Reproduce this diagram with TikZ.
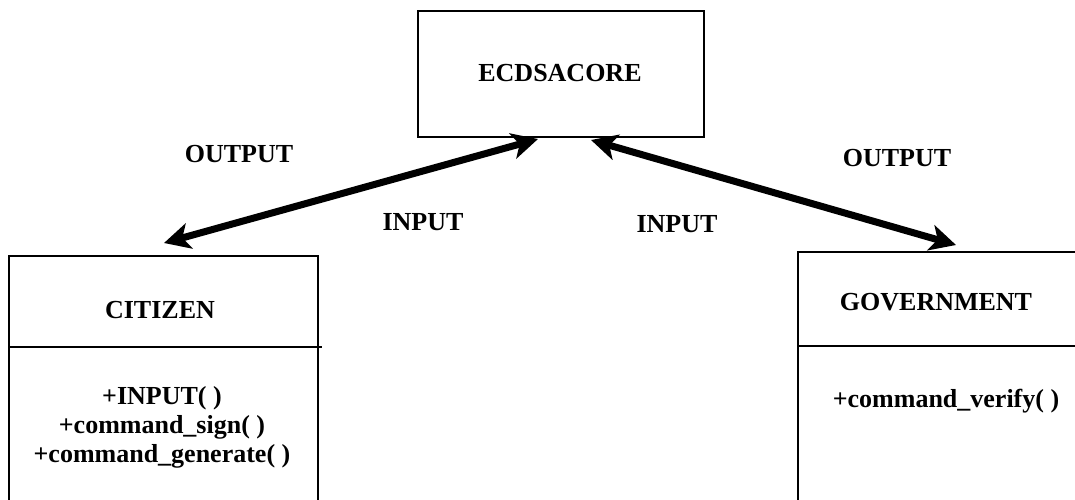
\documentclass[tikz,border=0pt]{standalone}
\usepackage{fontspec}
\setmainfont{Liberation Serif}
\usetikzlibrary{arrows.meta}
\begin{document}
\begin{tikzpicture}[x=1pt,y=-1pt,
  box/.style={draw=black, line width=2pt, rectangle, inner sep=0pt, anchor=north west},
  lbl/.style={font=\fontsize{26}{29}\selectfont\bfseries, inner sep=0pt, align=center},
  arr/.style={line width=7pt, {Stealth[length=26pt,width=26pt,inset=7pt]}-{Stealth[length=26pt,width=26pt,inset=7pt]}}]
\clip (0,0) rectangle (1075,499);
\fill[white] (0,0) rectangle (1075,499);
% core
\node[box, minimum width=286pt, minimum height=126pt] (core) at (417,10) {};
\node[lbl] (coreT) at (560,73) {ECDSACORE};
% citizen
\node[box, minimum width=309pt, minimum height=280pt] (cit) at (8,255) {};
\coordinate (citD1) at (8,347);
\coordinate (citD2) at (322,347);
\draw[line width=2pt] (citD1) -- (citD2);
\node[lbl] (citT) at (160,310) {CITIZEN};
\node[lbl] (citM) at (162,427) {+INPUT( )\\+command\_sign( )\\+command\_generate( )};
% government
\node[box, minimum width=300pt, minimum height=280pt] (gov) at (797,251) {};
\coordinate (govD1) at (797,346);
\coordinate (govD2) at (1075,346);
\draw[line width=2pt] (govD1) -- (govD2);
\node[lbl] (govT) at (936,302) {GOVERNMENT};
\node[lbl] (govM) at (946,401) {+command\_verify( )};
% arrows
\coordinate (aL1) at (538,139);
\coordinate (aL2) at (164,243);
\coordinate (aR1) at (591,140);
\coordinate (aR2) at (956,245);
\draw[arr] (aL1) -- (aL2);
\draw[arr] (aR1) -- (aR2);
% labels
\node[lbl] (out1) at (239,154) {OUTPUT};
\node[lbl] (in1) at (423,222) {INPUT};
\node[lbl] (in2) at (677,224) {INPUT};
\node[lbl] (out2) at (897,158) {OUTPUT};
\end{tikzpicture}
\end{document}
